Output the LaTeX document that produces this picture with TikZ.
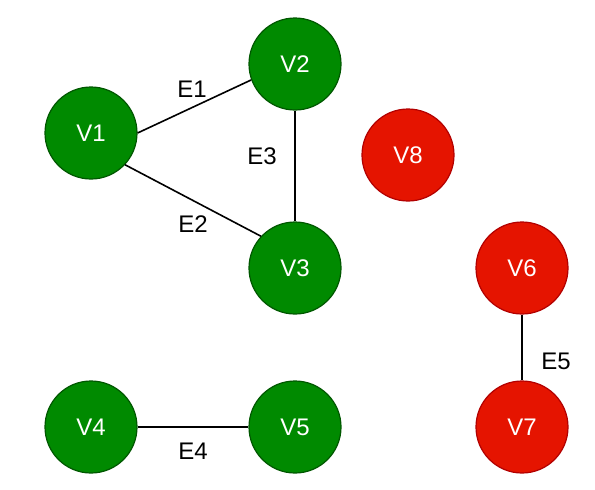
\documentclass[tikz,border=0pt]{standalone}
\usepackage{fontspec}
\setmainfont{Liberation Sans}
\usepackage{tikz}
\definecolor{vgreen}{HTML}{008A00}
\definecolor{vgreenline}{HTML}{005700}
\definecolor{vred}{HTML}{E51400}
\definecolor{vredline}{HTML}{B20000}
\tikzset{vertex/.style={circle, minimum size=92pt, inner sep=0pt, line width=1.2pt,
  text=white, font=\fontsize{24}{28}\selectfont}}
\tikzset{green vertex/.style={vertex, fill=vgreen, draw=vgreenline}}
\tikzset{red vertex/.style={vertex, fill=vred, draw=vredline}}
\tikzset{edge/.style={line width=1.6pt, black}}
\tikzset{elabel/.style={font=\fontsize{24}{28}\selectfont, inner sep=0pt}}

\begin{document}
\begin{tikzpicture}[x=1pt,y=-1pt]
\useasboundingbox (0,0) rectangle (595,490);

\node[green vertex] (v1) at (91,133) {V1};
\node[green vertex] (v2) at (295,64) {V2};
\node[green vertex] (v3) at (295,268) {V3};
\node[green vertex] (v4) at (91,427) {V4};
\node[green vertex] (v5) at (295,427) {V5};
\node[red vertex] (v6) at (522,268) {V6};
\node[red vertex] (v7) at (522,427) {V7};
\node[red vertex] (v8) at (408,155) {V8};

\draw[edge] (v1.east) -- (v2.200);
\draw[edge] (v1.-43) -- (v3.137);
\draw[edge] (v2.south) -- (v3.north);
\draw[edge] (v4.east) -- (v5.west);
\draw[edge] (v6.south) -- (v7.north);

\node[elabel] (e1) at (192,89) {E1};
\node[elabel] (e2) at (193,224) {E2};
\node[elabel] (e3) at (262,156) {E3};
\node[elabel] (e4) at (193,451) {E4};
\node[elabel] (e5) at (556,361) {E5};
\end{tikzpicture}
\end{document}
